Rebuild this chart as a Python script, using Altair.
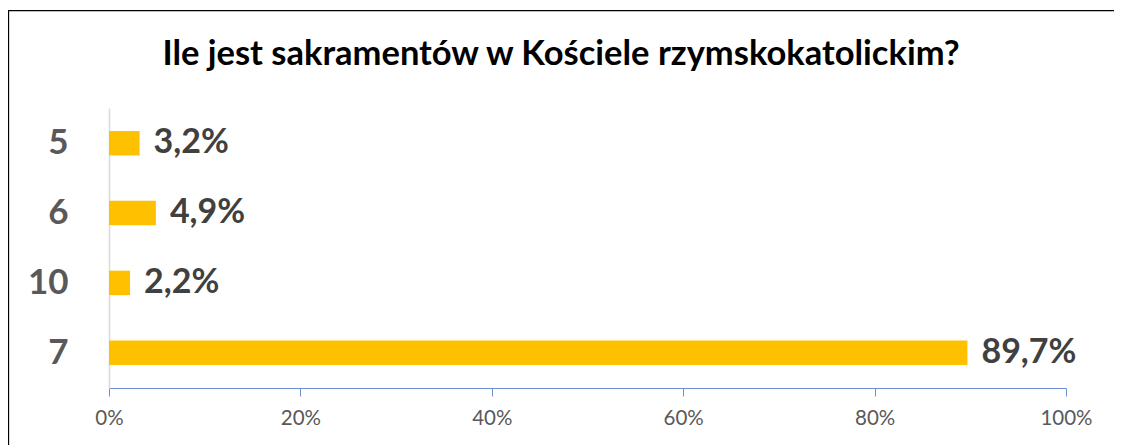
import altair as alt
import pandas as pd

categories = ["5", "6", "10", "7"]
values = [3.2, 4.9, 2.2, 89.7]
title_text = "Ile jest sakramentów w Kościele rzymskokatolickim?"
tick_values = [0, 0.2, 0.4, 0.6, 0.8, 1.0]

df = pd.DataFrame({
    "cat": categories,
    "share": [v / 100 for v in values],
    "label": [f"{v:.1f}".replace(".", ",") + "%" for v in values],
})

FONT = "Lato"

y_enc = alt.Y("cat:N", sort=categories,
              scale=alt.Scale(paddingInner=0.65, paddingOuter=0.33),
              axis=alt.Axis(title=None, ticks=False, domainColor="#D9D9D9", domainWidth=1.5,
                            labelFont=FONT, labelFontSize=35, labelFontWeight="bold",
                            labelColor="#595959", labelPadding=41))
x_enc = alt.X("share:Q", scale=alt.Scale(domain=[0, 1], nice=False),
              axis=alt.Axis(title=None, values=tick_values, format=".0%", grid=False,
                            labelFlush=False,
                            domainColor="#6A8FD4", tickColor="#6A8FD4", tickSize=8,
                            labelFont=FONT, labelFontSize=20.5, labelColor="#595959",
                            labelPadding=12))

bars = alt.Chart(df).mark_bar(color="#FFC000").encode(x=x_enc, y=y_enc)
labels = alt.Chart(df).mark_text(align="left", dx=14, font=FONT, fontSize=34,
                                 fontWeight="bold", color="#404040").encode(
    x="share:Q", y=alt.Y("cat:N", sort=categories), text="label:N")

one = alt.Data(values=[{}])
title = alt.Chart(one).mark_text(font=FONT, fontSize=34.5, fontWeight="bold", color="#000000",
                                 baseline="alphabetic", align="center").encode(
    x=alt.value(452), y=alt.value(-43), text=alt.value(title_text))
top_line = alt.Chart(one).mark_rule(color="#000000", strokeWidth=1.3).encode(
    x=alt.value(-101), x2=alt.value(1010), y=alt.value(-97.3))
left_line = alt.Chart(one).mark_rule(color="#000000", strokeWidth=1.3).encode(
    x=alt.value(-100.5), y=alt.value(-98), y2=alt.value(337))

chart = alt.layer(top_line, left_line, bars, labels, title).properties(
    width=957, height=280,
    autosize=alt.AutoSizeParams(type="none"),
    padding={"left": 101, "top": 100, "right": 48, "bottom": 57},
).configure(background="white").configure_view(stroke=None)

chart.save("out.html", embed_options={"renderer": "svg", "actions": False})
